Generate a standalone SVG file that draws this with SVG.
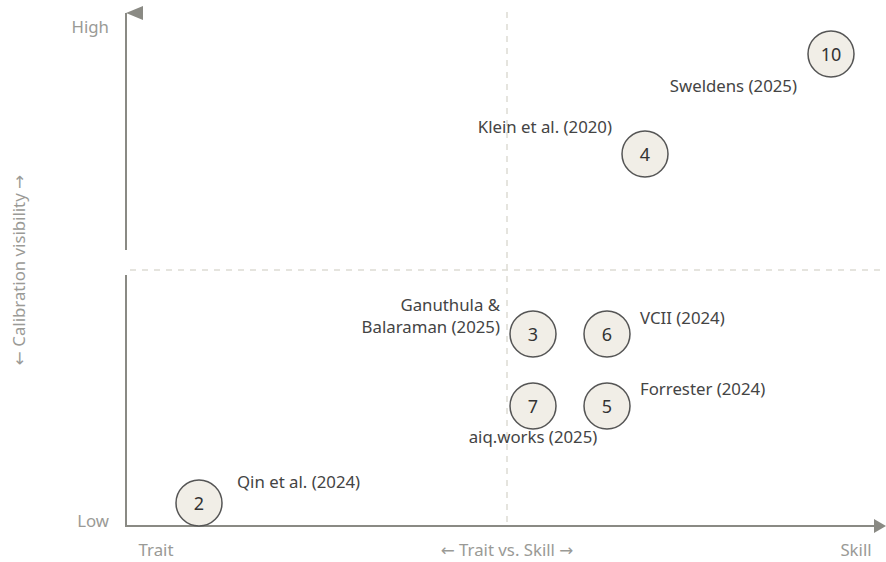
<svg xmlns="http://www.w3.org/2000/svg" width="886" height="562" viewBox="0 0 886 562">
<style>
.axis{stroke:#8a8a84;stroke-width:2;fill:none}
.grid{stroke:#dddbd3;stroke-width:1.5;stroke-dasharray:6,6;fill:none}
.head{fill:#8a8a84}
.ax{font-family:"Noto Sans","DejaVu Sans",sans-serif;font-size:16.8px;fill:#9a9a96}
.lbl{font-family:"Noto Sans","DejaVu Sans",sans-serif;font-size:16.8px;fill:#444}
.num{font-family:"Noto Sans","DejaVu Sans",sans-serif;font-size:18px;fill:#333;text-anchor:middle}
.arr{font-family:"DejaVu Sans",sans-serif}
circle{fill:#f1eee7;stroke:#555;stroke-width:1.5}
</style>
<g id="connectors">
<line class="grid" x1="507" y1="12" x2="507" y2="526"/>
<line class="grid" x1="130" y1="270" x2="886" y2="270"/>
<line class="axis" x1="126" y1="13" x2="126" y2="250"/>
<line class="axis" x1="126" y1="275" x2="126" y2="526"/>
<line class="axis" x1="125" y1="526" x2="876" y2="526"/>
<polygon class="head" points="126,13 143,6 143,20"/>
<polygon class="head" points="874,519 886,526 874,533"/>
</g>
<g id="axis-labels">
<text class="ax" x="109" y="33" text-anchor="end">High</text>
<text class="ax" x="109" y="527" text-anchor="end">Low</text>
<text class="ax" x="156" y="556" text-anchor="middle">Trait</text>
<text class="ax" x="507" y="556" text-anchor="middle"><tspan class="arr">←</tspan> Trait vs. Skill <tspan class="arr">→</tspan></text>
<text class="ax" x="856" y="556" text-anchor="middle">Skill</text>
<text class="ax" x="0" y="0" text-anchor="middle" transform="translate(25,270) rotate(-90)"><tspan class="arr">←</tspan> Calibration visibility <tspan class="arr">→</tspan></text>
</g>
<g id="node-10"><circle cx="831" cy="54" r="23"/><text class="num" x="831" y="60.5">10</text><text class="lbl" x="797" y="92" text-anchor="end">Sweldens (2025)</text></g>
<g id="node-4"><circle cx="645" cy="154" r="23"/><text class="num" x="645" y="160.5">4</text><text class="lbl" x="612" y="133" text-anchor="end">Klein et al. (2020)</text></g>
<g id="node-3"><circle cx="533" cy="334" r="23"/><text class="num" x="533" y="340.5">3</text><text class="lbl" x="500" y="311" text-anchor="end">Ganuthula &amp;</text><text class="lbl" x="500" y="333" text-anchor="end">Balaraman (2025)</text></g>
<g id="node-6"><circle cx="607" cy="334" r="23"/><text class="num" x="607" y="340.5">6</text><text class="lbl" x="640" y="324">VCII (2024)</text></g>
<g id="node-7"><circle cx="533" cy="406" r="23"/><text class="num" x="533" y="412.5">7</text><text class="lbl" x="533" y="443" text-anchor="middle">aiq.works (2025)</text></g>
<g id="node-5"><circle cx="607" cy="406" r="23"/><text class="num" x="607" y="412.5">5</text><text class="lbl" x="640" y="395">Forrester (2024)</text></g>
<g id="node-2"><circle cx="199" cy="503" r="23"/><text class="num" x="199" y="509.5">2</text><text class="lbl" x="237" y="488">Qin et al. (2024)</text></g>
</svg>
